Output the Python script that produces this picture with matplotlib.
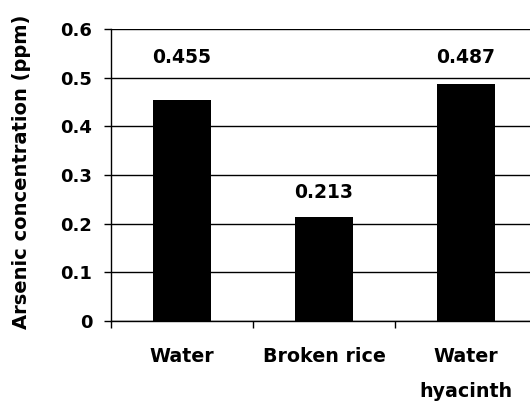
import matplotlib.pyplot as plt
import numpy as np

categories = ["Water", "Broken rice", "Water\nhyacinth"]
arsenic = [0.455, 0.213, 0.487]
value_labels = ["0.455", "0.213", "0.487"]
yticks = [0, 0.1, 0.2, 0.3, 0.4, 0.5, 0.6]
ytick_labels = ["0", "0.1", "0.2", "0.3", "0.4", "0.5", "0.6"]

# label heights (in data units) as placed in the original
label_y = [0.542, 0.264, 0.542]

plt.rcParams["font.family"] = ["DejaVu Sans"]
plt.rcParams["font.weight"] = "bold"

fig = plt.figure(figsize=(5.3, 4.01), dpi=100)
ax = fig.add_axes([111 / 530, 80 / 401, 426 / 530, 292 / 401])

x = np.arange(len(categories))
ax.bar(x, arsenic, width=0.41, color="black", zorder=3)

for xi, ly, lab in zip(x, label_y, value_labels):
    ax.text(xi, ly, lab, ha="center", va="center", fontsize=13.5, fontweight="bold")

ax.set_xlim(-0.5, 2.5)
ax.set_ylim(0, 0.6)
ax.set_yticks(yticks)
ax.set_yticklabels(ytick_labels, fontsize=13, fontweight="bold")
ax.yaxis.grid(True, color="black", linewidth=1.0, zorder=0)

ax.set_xticks([-0.5, 0.5, 1.5, 2.5])
ax.set_xticklabels([])
ax.set_xticks(x, minor=True)
ax.set_xticklabels(categories, minor=True, fontsize=13.7, fontweight="bold", va="top")
for t in ax.get_xticklabels(minor=True):
    t.set_linespacing(2.1)
ax.tick_params(axis="x", which="minor", length=0, pad=18.5)
ax.tick_params(axis="x", which="major", length=5, width=1, direction="out")
ax.tick_params(axis="y", length=5, width=1, direction="out", pad=8.5)

ax.spines["top"].set_visible(False)
ax.spines["right"].set_visible(False)
ax.spines["left"].set_linewidth(1)
ax.spines["bottom"].set_linewidth(1)

ax.set_ylabel("Arsenic concentration (ppm)", fontsize=14, fontweight="bold")
ax.yaxis.set_label_coords(-0.188, 0.51)

fig.savefig("out.png", dpi=100)
